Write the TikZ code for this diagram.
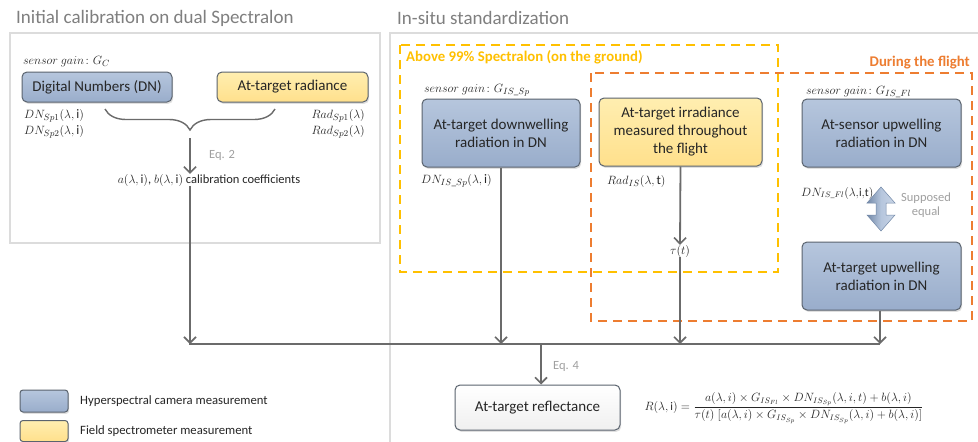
\documentclass[tikz,border=0pt]{standalone}
\usepackage{amsmath}
\usepackage{fontspec}
\setmainfont{Carlito}
\usetikzlibrary{arrows.meta,shadows,decorations.pathreplacing}

\definecolor{panelgray}{HTML}{DCDCDC}
\definecolor{titlegray}{HTML}{7F7F7F}
\definecolor{conngray}{HTML}{6B6B6B}
\definecolor{boxedge}{HTML}{5A636E}
\definecolor{bluetop}{HTML}{B6C6DD}
\definecolor{bluebot}{HTML}{99ADCB}
\definecolor{yelltop}{HTML}{FFEEB0}
\definecolor{yellbot}{HTML}{FFE08C}
\definecolor{dashyellow}{HTML}{FFC000}
\definecolor{dashorange}{HTML}{ED7D31}
\definecolor{notegray}{HTML}{A0A0A0}
\definecolor{inktext}{HTML}{262626}
\definecolor{arrowdark}{HTML}{7389A8}
\definecolor{arrowlight}{HTML}{C9D5E6}

\tikzset{
  box/.style={rounded corners=5pt, draw=boxedge, line width=1pt, align=center,
    text=inktext, font=\fontsize{15}{18}\selectfont, inner sep=2pt,
    drop shadow={opacity=0.25, shadow xshift=1.2pt, shadow yshift=-1.8pt}},
  bluebox/.style={box, top color=bluetop, bottom color=bluebot},
  yellowbox/.style={box, top color=yelltop, bottom color=yellbot},
  whitebox/.style={box, top color=white, bottom color=black!6},
  panel/.style={draw=panelgray, line width=2.5pt},
  heading/.style={font=\fontsize{19}{22}\selectfont, text=titlegray, anchor=west, inner sep=0pt},
  mathlabel/.style={font=\fontsize{13}{15}\selectfont, text=inktext, inner sep=0pt},
  note/.style={font=\fontsize{12.5}{14.5}\selectfont, text=notegray, inner sep=0pt, align=center},
  plain/.style={font=\fontsize{12.5}{15}\selectfont, text=inktext, inner sep=0pt},
  conn/.style={draw=conngray, line width=1.8pt, -{Straight Barb[length=6pt,width=12pt,line width=1.6pt]}},
  busline/.style={draw=conngray, line width=1.8pt},
  yzone/.style={draw=dashyellow, line width=2pt, dash pattern=on 9pt off 6pt},
  ozone/.style={draw=dashorange, line width=2pt, dash pattern=on 9pt off 6pt},
  zonelabel/.style={font=\bfseries\fontsize{14.8}{17}\selectfont, inner sep=0pt},
}

\begin{document}
\begin{tikzpicture}[x=1pt,y=-1pt]
\useasboundingbox (0,0) rectangle (978,442);
\fill[white] (0,0) rectangle (978,442);

% panels and headings
\draw[panel] (10,33) rectangle (380,243);
\draw[panel] (390,33) rectangle (990,455);
\node[heading] (h1) at (16,18) {Initial calibration on dual Spectralon};
\node[heading] (h2) at (397,18) {In-situ standardization};

% dashed zones
\draw[yzone] (400,45) rectangle (778,272);
\draw[ozone] (591,73) rectangle (972,321);
\node[zonelabel, text=dashyellow, anchor=west] (zy) at (406,57) {Above 99\% Spectralon (on the ground)};
\node[zonelabel, text=dashorange, anchor=east] (zo) at (970,63) {During the flight};

% initial calibration
\node[bluebox, minimum width=150pt, minimum height=30pt] (dn) at (97,87) {Digital Numbers (DN)};
\node[yellowbox, minimum width=151pt, minimum height=30pt] (rad) at (292.5,87) {At-target radiance};
\node[mathlabel, anchor=west] (gc) at (23,62) {$sensor\ gain\colon G_C$};
\node[mathlabel, anchor=west, align=left] (dnl) at (24,124) {$DN_{Sp1}(\lambda,\mathrm{i})$\\[1pt]$DN_{Sp2}(\lambda,\mathrm{i})$};
\node[mathlabel, anchor=east, align=right] (radl) at (365,124) {$Rad_{Sp1}(\lambda)$\\[1pt]$Rad_{Sp2}(\lambda)$};
\coordinate (bl) at (105,109);
\coordinate (br) at (275,109);
\draw[draw=conngray, line width=1.4pt, decorate, decoration={brace, mirror, amplitude=21pt}] (bl) -- (br);
\coordinate (bt) at (190,138);
\node[plain] (coef) at (209,180) {$a(\lambda,\mathrm{i})$, $b(\lambda,\mathrm{i})$ calibration coefficients};
\node[note, anchor=west] (eq2) at (209,155) {Eq. 2};
\draw[conn] (bt) -- (bt |- coef.north);

% in-situ boxes
\node[bluebox, minimum width=158pt, minimum height=68pt] (down) at (501,133) {At-target downwelling\\radiation in DN};
\node[yellowbox, minimum width=163pt, minimum height=68pt] (irr) at (680.5,132) {At-target irradiance\\measured throughout\\the flight};
\node[bluebox, minimum width=159pt, minimum height=68pt] (asu) at (881.5,133) {At-sensor upwelling\\radiation in DN};
\node[bluebox, minimum width=159pt, minimum height=68pt] (atu) at (881.5,276) {At-target upwelling\\radiation in DN};
\node[mathlabel, anchor=west] (gsp) at (424,90) {$sensor\ gain\colon G_{IS\text{\_}Sp}$};
\node[mathlabel, anchor=west] (gfl) at (806,92) {$sensor\ gain\colon G_{IS\text{\_}Fl}$};
\node[mathlabel, anchor=west] (dnsp) at (421,181) {$DN_{IS\text{\_}Sp}(\lambda,\mathrm{i})$};
\node[mathlabel, anchor=west] (radis) at (607,181) {$Rad_{IS}(\lambda,\mathrm{t})$};
\node[mathlabel, anchor=west, font=\fontsize{11.5}{13}\selectfont] (dnfl) at (801,193) {$DN_{IS\text{\_}Fl}(\lambda,\!\mathrm{i},\!\mathrm{t})$};
\node[mathlabel] (tau) at (680,251) {$\tau(t)$};
\node[note] (eqn) at (926,205) {Supposed\\equal};

% double-headed "supposed equal" arrow
\shade[left color=arrowdark, right color=arrowlight, middle color=bluetop, draw=arrowdark, line width=0.5pt]
  (881,187) -- (895,203) -- (886,203) -- (886,215) -- (895,215) -- (881,231)
  -- (867,215) -- (876,215) -- (876,203) -- (867,203) -- cycle;

% bus and result
\coordinate (busL) at (190,344);
\coordinate (busR) at (880,344);
\coordinate (busM) at (541,344);
\node[whitebox, minimum width=165pt, minimum height=45pt] (refl) at (537.5,407.5) {At-target reflectance};
\node[note, anchor=west] (eq4) at (553,366) {Eq. 4};
\node[font=\fontsize{11.6}{14}\selectfont, text=inktext] (req) at (784,408)
  {$R(\lambda,\mathrm{i}) = \dfrac{a(\lambda,i)\times G_{IS_{Fl}}\times DN_{IS_{Sp}}(\lambda,i,t)+b(\lambda,i)}{\tau(t)\;[a(\lambda,i)\times G_{IS_{Sp}}\times DN_{IS_{Sp}}(\lambda,i)+b(\lambda,i)]}$};

\draw[busline] (coef.south -| busL) -- (busL) -- (busR);
\draw[conn] (coef.south -| busL) -- (busL);
\draw[conn] (down.south) -- (down.south |- busL);
\draw[conn] (irr.south) -- (tau.north);
\draw[conn] (tau.south) -- (tau.south |- busL);
\draw[conn] (atu.south -| busR) -- (busR);
\draw[conn] (busM) -- (busM |- refl.north);

% legend
\node[bluebox, minimum width=48pt, minimum height=22pt, rounded corners=3pt] (lg1) at (44,401) {};
\node[yellowbox, minimum width=48pt, minimum height=21pt, rounded corners=3pt] (lg2) at (44,431) {};
\node[plain, anchor=west, font=\fontsize{12.7}{15}\selectfont] (lt1) at (80,401) {Hyperspectral camera measurement};
\node[plain, anchor=west, font=\fontsize{12.7}{15}\selectfont] (lt2) at (80,431) {Field spectrometer measurement};
\end{tikzpicture}
\end{document}
